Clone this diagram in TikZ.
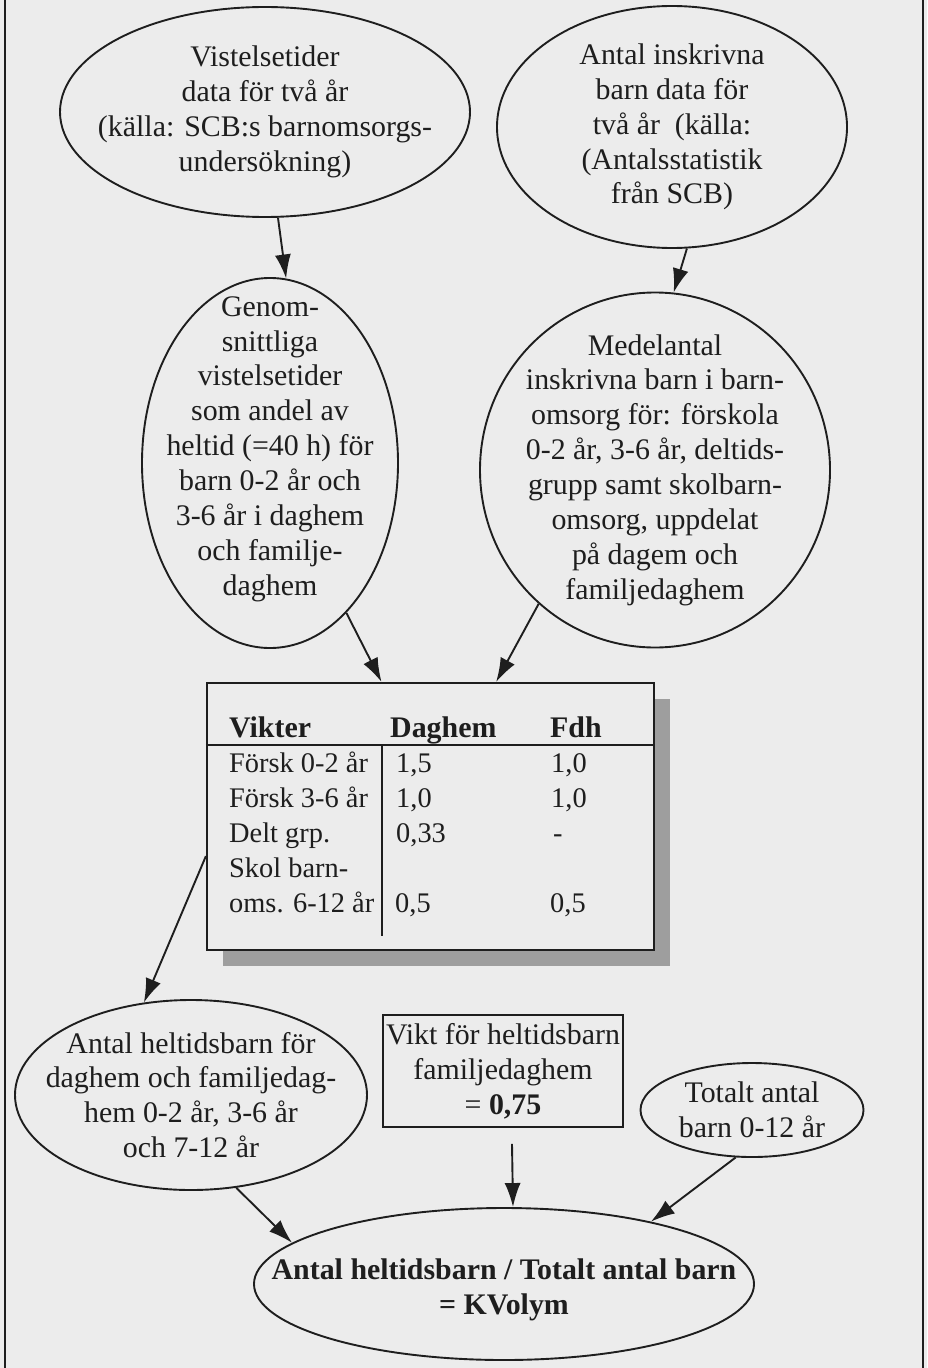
\documentclass[tikz,border=0pt]{standalone}
\usepackage{fontspec}
\setmainfont{Liberation Serif}
\usetikzlibrary{shapes,shadows,arrows.meta,calc,positioning}
\definecolor{paper}{RGB}{236,236,236}
\definecolor{ink}{RGB}{30,30,30}
\definecolor{skugga}{RGB}{158,158,158}
\newcommand\storfont{\fontsize{30}{35}\selectfont}
\newcommand\cellfont{\fontsize{28.5}{35}\selectfont}
\tikzset{
  bubble/.style={draw=ink, ellipse, line width=1.9bp, inner sep=0pt},
  bubbletext/.style={align=center, text=ink, inner sep=0pt, font=\storfont},
  celltext/.style={anchor=base west, inner sep=0pt, text=ink, font=\cellfont},
  pil/.style={-{Latex[length=24bp,width=16bp]}, line width=1.9bp, draw=ink},
}
\begin{document}
\begin{tikzpicture}[x=1bp,y=-1bp]
        \useasboundingbox (0,0) rectangle (927,1368);
        \fill [paper] (0,0) rectangle (927,1368);
        % page frame
        \draw [ink, line width=2bp] (5,0) -- (5,1368);
        \draw [ink, line width=2bp] (923,0) -- (923,1368);

        % source ellipses
        \node (vist) [bubble, minimum width=410bp, minimum height=210bp] at (265,112) {};
        \node (vist-t) [bubbletext] at (vist) {Vistelsetider\\data för två år\\(källa: SCB:s barnomsorgs-\\undersökning)};

        \node (antal) [bubble, minimum width=350bp, minimum height=242bp] at (672,127) {};
        \node (antal-t) [bubbletext] at (antal) {Antal inskrivna\\barn data för\\två år~ (källa:\\(Antalsstatistik\\från SCB)};

        \node (genom) [bubble, minimum width=256bp, minimum height=370bp] at (270,463) {};
        \node (genom-t) [bubbletext, yshift=14bp] at (genom) {Genom-\\snittliga\\vistelsetider\\som andel av\\heltid (=40 h) för\\barn 0-2 år och\\3-6 år i daghem\\och familje-\\daghem};

        \node (medel) [bubble, minimum width=350bp, minimum height=355bp] at (655,470) {};
        \node (medel-t) [bubbletext] at (medel) {Medelantal\\inskrivna barn i barn-\\omsorg för: förskola\\0-2 år, 3-6 år, deltids-\\grupp samt skolbarn-\\omsorg, uppdelat\\på dagem och\\familjedaghem};

        % weight table
        \node (vikter) [draw=ink, fill=paper, line width=2.2bp, inner sep=0pt,
          minimum width=447bp, minimum height=267bp,
          drop shadow={shadow xshift=16bp, shadow yshift=-16bp, fill=skugga, opacity=1}] at (430.5,816.5) {};
        \draw [ink, line width=2.2bp] ($(vikter.north west)+(0,63)$) -- ($(vikter.north east)+(0,63)$);
        \draw [ink, line width=2bp] ($(vikter.north west)+(176,63)$) -- ($(vikter.north west)+(176,254)$);

        \node (h1) [celltext, font=\storfont\bfseries] at (229,737) {Vikter};
        \node (h2) [celltext, font=\storfont\bfseries] at (390,737) {Daghem};
        \node (h3) [celltext, font=\storfont\bfseries] at (550,737) {Fdh};

        \node (r1a) [celltext] at (229,772) {Försk 0-2 år};
        \node (r1b) [celltext] at (396,772) {1,5};
        \node (r1c) [celltext] at (551,772) {1,0};
        \node (r2a) [celltext] at (229,807) {Försk 3-6 år};
        \node (r2b) [celltext] at (396,807) {1,0};
        \node (r2c) [celltext] at (551,807) {1,0};
        \node (r3a) [celltext] at (229,842) {Delt grp.};
        \node (r3b) [celltext] at (396,842) {0,33};
        \node (r3c) [celltext] at (553,842) {-};
        \node (r4a) [celltext] at (229,877) {Skol barn-};
        \node (r5a) [celltext] at (229,912) {oms. 6-12 år};
        \node (r5b) [celltext] at (395,912) {0,5};
        \node (r5c) [celltext] at (550,912) {0,5};

        % results
        \node (heltid) [bubble, minimum width=352bp, minimum height=190bp] at (191,1095) {};
        \node (heltid-t) [bubbletext] at (heltid) {Antal heltidsbarn för\\daghem och familjedag-\\hem 0-2 år, 3-6 år\\och 7-12 år};

        \node (vikt) [draw=ink, line width=1.9bp, minimum width=240bp, minimum height=112bp,
          inner sep=0pt, align=center, text=ink, font=\storfont] at (503,1071)
          {Vikt för heltidsbarn\\familjedaghem\\= \textbf{0,75}};

        \node (totalt) [bubble, minimum width=223bp, minimum height=94bp] at (752,1110) {};
        \node (totalt-t) [bubbletext] at (totalt) {Totalt antal\\barn 0-12 år};

        \node (kvol) [bubble, minimum width=500bp, minimum height=152bp] at (504,1284) {};
        \node (kvol-t) [bubbletext, font=\storfont\bfseries, yshift=-6bp] at (kvol) {Antal heltidsbarn / Totalt antal barn\\= KVolym};

        % connectors
        \draw [pil] (vist.277) -- (genom.85);
        \draw [pil] (antal.277) -- (medel.84);
        \draw [pil] (genom.297) -- (vikter.110.7);
        \draw [pil] (medel.229) -- (vikter.64.2);
        \draw [pil] (vikter.190.4) -- (heltid.117);
        \draw [pil] (heltid.296) -- (kvol.169);
        \draw [pil] ([xshift=9bp,yshift=-16bp]vikt.south) -- ([xshift=9bp]kvol.north);
        \draw [pil] (totalt.251) -- (kvol.23);
\end{tikzpicture}
\end{document}
